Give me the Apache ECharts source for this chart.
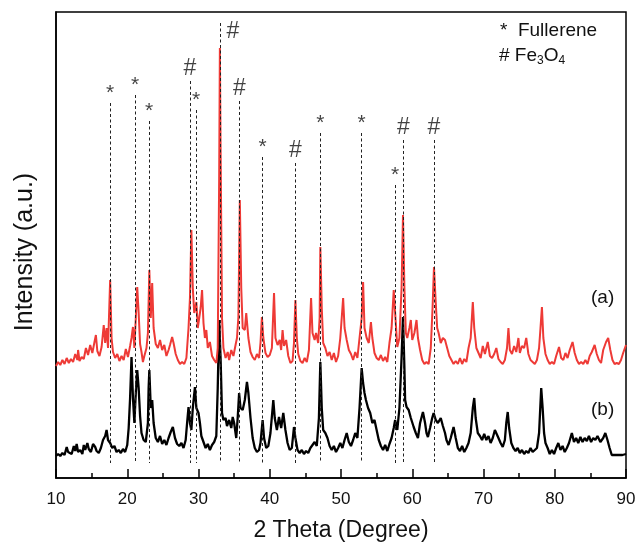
<!DOCTYPE html>
<html>
<head>
<meta charset="utf-8">
<script src="https://cdn.jsdelivr.net/npm/echarts@6/dist/echarts.min.js"></script>
<style>html,body{margin:0;padding:0;background:#fff;}#main{width:636px;height:542px;}</style>
</head>
<body>
<div id="main"></div>
<script>
// 2θ (degree), intensity (a.u.) pairs
const redPattern = [[10.0,112],[10.3,116],[10.6,113],[10.9,118],[11.2,114],[11.5,120],[11.8,115],[12.1,119],[12.4,116],[12.7,124],[13.0,118],[13.1,128],[13.3,117],[13.6,121],[13.9,119],[14.2,130],[14.5,123],[14.8,133],[15.1,125],[15.4,136],[15.6,143],[15.8,127],[16.1,122],[16.4,131],[16.7,153],[16.9,135],[17.1,150],[17.3,130],[17.6,198],[17.8,140],[18.0,126],[18.3,120],[18.6,124],[18.9,117],[19.2,122],[19.5,118],[19.8,129],[20.1,121],[20.4,132],[20.6,140],[20.8,151],[21.0,130],[21.2,160],[21.4,191],[21.6,165],[21.8,134],[22.0,126],[22.2,116],[22.4,122],[22.7,130],[22.9,145],[23.1,208],[23.3,160],[23.5,195],[23.7,150],[24.0,134],[24.3,130],[24.6,138],[24.9,128],[25.2,133],[25.5,122],[25.8,128],[26.0,133],[26.3,141],[26.5,135],[26.8,124],[27.1,118],[27.4,114],[27.7,116],[28.0,114],[28.3,120],[28.6,150],[28.8,180],[29.0,248],[29.2,190],[29.4,165],[29.7,176],[29.9,150],[30.1,160],[30.3,170],[30.5,188],[30.7,155],[30.9,140],[31.1,148],[31.3,130],[31.6,136],[31.9,122],[32.2,118],[32.5,115],[32.7,130],[32.9,300],[33.0,430],[33.1,330],[33.3,160],[33.5,130],[33.8,120],[34.1,126],[34.3,118],[34.6,128],[34.9,122],[35.2,133],[35.4,140],[35.6,161],[35.8,278],[36.0,190],[36.2,150],[36.5,148],[36.7,165],[37.0,140],[37.3,126],[37.6,121],[37.9,118],[38.2,124],[38.5,120],[38.7,135],[38.9,161],[39.1,140],[39.4,125],[39.7,121],[40.0,123],[40.3,130],[40.6,185],[40.8,140],[41.1,133],[41.4,138],[41.6,128],[41.8,148],[42.0,132],[42.3,138],[42.6,122],[42.9,115],[43.2,117],[43.4,135],[43.6,178],[43.8,140],[44.0,124],[44.3,117],[44.6,115],[44.9,120],[45.2,116],[45.5,128],[45.8,180],[46.0,145],[46.3,138],[46.5,145],[46.8,135],[47.0,160],[47.1,231],[47.3,170],[47.5,135],[47.8,130],[48.1,122],[48.4,126],[48.7,118],[49.0,125],[49.3,116],[49.6,122],[49.9,140],[50.1,160],[50.3,180],[50.5,150],[50.8,138],[51.1,128],[51.4,124],[51.7,118],[52.0,126],[52.3,120],[52.6,140],[52.9,160],[53.1,196],[53.3,150],[53.6,140],[53.9,135],[54.2,156],[54.4,140],[54.7,125],[55.0,120],[55.3,118],[55.6,123],[55.9,117],[56.2,121],[56.5,116],[56.8,135],[57.1,150],[57.4,188],[57.6,165],[57.9,131],[58.2,140],[58.5,190],[58.7,263],[58.9,190],[59.1,145],[59.3,140],[59.6,150],[59.8,158],[60.0,138],[60.3,145],[60.6,158],[60.8,140],[61.1,128],[61.4,118],[61.7,114],[62.0,116],[62.3,114],[62.6,130],[62.85,170],[63.05,211],[63.3,175],[63.5,150],[63.7,145],[64.0,135],[64.3,140],[64.6,138],[64.9,130],[65.2,122],[65.5,118],[65.8,114],[66.1,117],[66.4,114],[66.7,120],[67.0,114],[67.3,119],[67.6,116],[67.9,130],[68.2,140],[68.5,176],[68.7,150],[69.0,130],[69.3,125],[69.6,120],[69.9,132],[70.2,124],[70.6,136],[70.9,122],[71.2,120],[71.5,124],[71.8,130],[72.1,119],[72.4,116],[72.7,114],[73.0,118],[73.3,130],[73.5,150],[73.7,128],[74.0,124],[74.3,132],[74.6,126],[74.9,140],[75.1,125],[75.4,132],[75.7,130],[76.0,140],[76.3,124],[76.6,118],[76.9,116],[77.2,114],[77.5,118],[77.8,130],[78.0,150],[78.2,171],[78.4,140],[78.7,124],[79.0,118],[79.3,114],[79.6,116],[79.9,114],[80.2,122],[80.6,131],[80.9,120],[81.2,118],[81.5,125],[81.8,120],[82.1,128],[82.5,136],[82.8,125],[83.1,118],[83.4,114],[83.7,116],[84.0,114],[84.3,118],[84.6,114],[84.9,122],[85.2,126],[85.6,133],[85.9,124],[86.2,118],[86.5,115],[86.8,128],[87.2,136],[87.5,140],[87.8,128],[88.1,118],[88.4,114],[88.7,115],[89.0,114],[89.3,118],[89.6,125],[90.0,133]];

const blackPattern = [[10.0,22],[10.3,24],[10.6,22],[10.9,25],[11.2,23],[11.5,31],[11.7,26],[11.9,28],[12.2,24],[12.5,32],[12.7,27],[12.9,34],[13.1,26],[13.4,28],[13.7,24],[13.9,33],[14.1,28],[14.4,35],[14.6,29],[14.9,26],[15.2,34],[15.5,31],[15.7,27],[16.0,25],[16.3,30],[16.6,38],[16.9,42],[17.1,48],[17.3,38],[17.6,35],[17.9,30],[18.2,32],[18.5,26],[18.8,28],[19.1,25],[19.4,29],[19.7,26],[20.0,33],[20.2,50],[20.4,80],[20.6,121],[20.8,80],[21.0,55],[21.2,85],[21.4,108],[21.6,90],[21.8,62],[22.0,45],[22.3,38],[22.6,36],[22.9,55],[23.0,90],[23.1,108],[23.3,70],[23.5,78],[23.7,55],[24.0,40],[24.3,36],[24.6,42],[24.9,34],[25.2,38],[25.5,33],[25.8,40],[26.1,46],[26.4,51],[26.7,40],[27.0,34],[27.3,32],[27.6,35],[27.9,30],[28.2,38],[28.4,55],[28.6,71],[28.8,55],[29.0,48],[29.2,70],[29.5,91],[29.7,70],[30.0,65],[30.2,55],[30.4,42],[30.7,36],[31.0,30],[31.3,34],[31.6,28],[31.9,33],[32.2,36],[32.5,42],[32.7,90],[32.9,158],[33.1,120],[33.3,65],[33.5,58],[33.8,60],[34.0,52],[34.3,58],[34.6,50],[34.8,61],[35.0,55],[35.3,40],[35.5,60],[35.7,85],[35.9,70],[36.2,68],[36.5,78],[36.8,96],[37.0,85],[37.3,60],[37.6,40],[37.9,30],[38.2,26],[38.5,28],[38.7,35],[39.0,58],[39.2,40],[39.5,30],[39.8,32],[40.1,45],[40.5,78],[40.7,60],[41.0,48],[41.3,61],[41.6,50],[41.9,65],[42.2,48],[42.5,35],[42.8,28],[43.1,30],[43.4,51],[43.6,40],[43.9,28],[44.2,25],[44.5,28],[44.8,24],[45.1,27],[45.4,25],[45.7,30],[46.0,33],[46.3,36],[46.6,32],[46.9,60],[47.1,116],[47.3,70],[47.5,48],[47.8,45],[48.1,40],[48.4,32],[48.7,28],[49.0,32],[49.3,26],[49.6,30],[49.9,35],[50.2,30],[50.5,38],[50.8,45],[51.1,36],[51.4,32],[51.7,38],[52.0,45],[52.3,40],[52.6,70],[52.9,110],[53.1,95],[53.3,85],[53.5,78],[53.8,70],[54.1,65],[54.4,55],[54.7,58],[55.0,48],[55.3,38],[55.6,32],[55.9,28],[56.2,33],[56.5,27],[56.8,34],[57.1,40],[57.4,50],[57.6,58],[57.9,48],[58.2,70],[58.5,120],[58.7,161],[58.9,110],[59.0,78],[59.2,71],[59.5,68],[59.8,60],[60.2,51],[60.5,45],[60.8,40],[61.1,55],[61.5,66],[61.8,55],[62.0,45],[62.2,41],[62.5,50],[62.8,60],[63.0,65],[63.3,58],[63.6,55],[64.0,60],[64.3,52],[64.6,45],[64.8,38],[65.1,33],[65.4,40],[65.8,51],[66.1,40],[66.4,30],[66.7,27],[67.0,32],[67.3,26],[67.6,30],[67.9,35],[68.2,45],[68.5,70],[68.7,80],[68.9,60],[69.2,45],[69.5,42],[69.8,38],[70.1,44],[70.4,38],[70.7,42],[71.0,35],[71.3,40],[71.6,48],[71.8,50],[72.1,40],[72.4,35],[72.7,31],[73.0,38],[73.2,55],[73.4,66],[73.6,50],[73.9,35],[74.2,30],[74.5,27],[74.8,30],[75.1,25],[75.4,28],[75.7,24],[76.0,27],[76.3,25],[76.6,30],[76.9,26],[77.2,28],[77.5,30],[77.8,45],[78.1,90],[78.3,70],[78.5,45],[78.7,35],[79.0,30],[79.3,24],[79.6,28],[79.9,24],[80.2,30],[80.5,35],[80.8,28],[81.1,32],[81.4,26],[81.7,30],[82.0,35],[82.4,45],[82.7,36],[83.0,40],[83.3,35],[83.6,41],[83.9,36],[84.2,40],[84.5,37],[84.8,42],[85.1,36],[85.4,40],[85.7,38],[86.0,42],[86.4,36],[86.8,40],[87.1,45],[87.4,38],[87.7,30],[88.0,23],[88.5,23],[89.0,23],[89.5,23],[90.0,24]];

// reference peak marks
const markTheta  = [17.58, 21.1, 23.06, 28.8, 29.66, 33.0, 35.75, 38.98, 43.6, 47.1, 52.9, 57.6, 58.75, 63.05];
const markTop    = [375, 383, 357, 397, 368, 455, 377, 321, 315, 345, 345, 293, 338, 338];
const markSymbol = ['*','*','*','#','*','#','#','*','#','*','*','*','#','#'];
const markBottom = 15;

const xTicks = [10, 20, 30, 40, 50, 60, 70, 80, 90];

const FONT = 'Liberation Sans, Arial, sans-serif';
const chart = echarts.init(document.getElementById('main'), null, {renderer: 'canvas'});

const markLines = markTheta.map((t, i) => [{coord: [t, markTop[i]]}, {coord: [t, markBottom]}]);
const labelPts = markTheta.map((t, i) => ({
  value: [t, markTop[i]],
  label: {
    formatter: markSymbol[i],
    fontSize: markSymbol[i] === '#' ? 23 : 21,
    offset: (i === 5) ? [13, 22] : (markSymbol[i] === '#' ? [0, 1] : [0, 3])
  }
}));

chart.setOption({
  animation: false,
  backgroundColor: '#fff',
  grid: {left: 56, right: 10, top: 12, bottom: 64, outerBoundsMode: 'none', containLabel: false, show: true, borderColor: '#000', borderWidth: 1.5, backgroundColor: 'transparent'},
  xAxis: {
    type: 'value', min: xTicks[0], max: xTicks[xTicks.length - 1], interval: 10,
    axisLine: {show: true, lineStyle: {color: '#000', width: 1.5}},
    axisTick: {show: true, inside: true, length: 9, lineStyle: {color: '#000', width: 1.5}},
    minorTick: {show: true, splitNumber: 2, length: 5, lineStyle: {color: '#000', width: 1.5}},
    splitLine: {show: false},
    axisLabel: {color: '#111', fontSize: 17, fontFamily: FONT, margin: 13},
    name: '2 Theta (Degree)', nameLocation: 'middle', nameGap: 41,
    nameTextStyle: {color: '#111', fontSize: 23, fontFamily: FONT}
  },
  yAxis: {
    type: 'value', min: 0, max: 466,
    axisLine: {show: true, lineStyle: {color: '#000', width: 1.5}},
    axisTick: {show: false}, axisLabel: {show: false}, splitLine: {show: false}
  },
  series: [
    {
      type: 'line', data: blackPattern, symbol: 'none', z: 3,
      lineStyle: {color: '#000', width: 2.3}
    },
    {
      type: 'line', data: redPattern, symbol: 'none', z: 4,
      lineStyle: {color: '#ee3a36', width: 2},
      markLine: {
        silent: true, symbol: 'none', animation: false, z: 5,
        label: {show: false},
        lineStyle: {color: '#222', width: 1, type: [3, 2.5]},
        data: markLines
      }
    },
    {
      type: 'scatter', data: labelPts, symbolSize: 0, z: 6,
      label: {show: true, position: 'top', color: '#111', fontFamily: FONT, distance: 2}
    }
  ],
  graphic: [
    {type: 'text', x: 25, y: 252, rotation: Math.PI / 2, style: {text: 'Intensity (a.u.)', fontSize: 25, fontFamily: FONT, fill: '#111', textAlign: 'center', textVerticalAlign: 'middle'}},
    {type: 'text', left: 500, top: 21, style: {text: '*  Fullerene', fontSize: 19, fontFamily: FONT, fill: '#111'}},
    {type: 'text', left: 499, top: 46, style: {
      text: '{n|# Fe}{s|3}{n|O}{s|4}', fontFamily: FONT, fill: '#111',
      rich: {n: {fontSize: 19, fontFamily: FONT, fill: '#111'}, s: {fontSize: 12, fontFamily: FONT, fill: '#111', padding: [11, 0, 0, 0]}}
    }},
    {type: 'text', left: 591, top: 288, style: {text: '(a)', fontSize: 19, fontFamily: FONT, fill: '#111'}},
    {type: 'text', left: 591, top: 400, style: {text: '(b)', fontSize: 19, fontFamily: FONT, fill: '#111'}}
  ]
});
</script>
</body>
</html>
